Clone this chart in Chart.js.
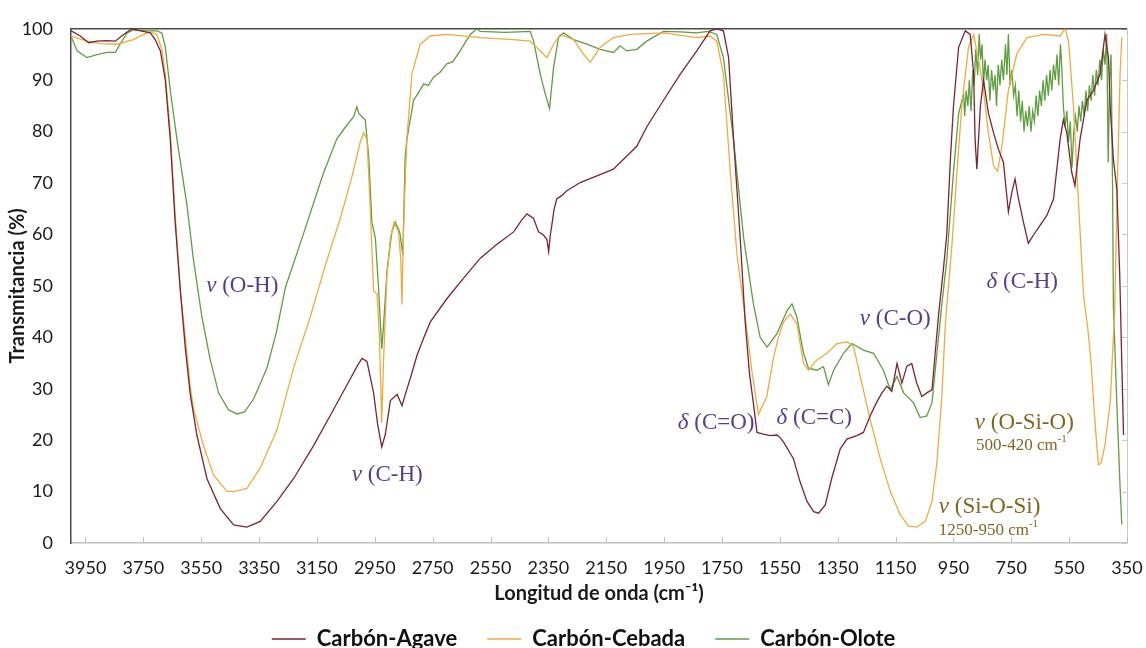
<!DOCTYPE html>
<html>
<head>
<meta charset="utf-8">
<script src="https://cdn.jsdelivr.net/npm/chart.js@4.4.1/dist/chart.umd.min.js"></script>
<style>
  html, body { margin: 0; padding: 0; background: #fff; }
  #chart { display: block; }
</style>
</head>
<body>
<canvas id="chart" width="1146" height="648"></canvas>
<script>
// tick values on the wavenumber axis
const xTicks = [3950, 3750, 3550, 3350, 3150, 2950, 2750, 2550, 2350, 2150, 1950, 1750, 1550, 1350, 1150, 950, 750, 550, 350];

const seriesNames = ['Carbón-Agave', 'Carbón-Cebada', 'Carbón-Olote'];
const seriesColors = ['#7d2331', '#f0aa3e', '#5e9e40'];

// [wavenumber cm-1, transmittance %]
const agave = [
  [4000, 99.6], [3968, 98.6], [3939, 97.3], [3910, 97.6], [3876, 97.7], [3847, 97.6], [3818, 98.9], [3789, 100],
  [3760, 99.6], [3726, 99.2], [3709, 97.9], [3691, 95.7], [3674, 90], [3657, 78.6], [3640, 62.4], [3622, 49],
  [3605, 38], [3588, 29], [3565, 21], [3530, 12.5], [3484, 6.7], [3438, 3.5], [3392, 3.1], [3346, 4.2],
  [3288, 8.1], [3231, 12.5], [3162, 18.9], [3092, 26], [3035, 31.9], [3010, 34.5], [2994, 35.9], [2977, 35.3],
  [2954, 29.2], [2940, 23], [2926, 18.7], [2914, 21], [2896, 27.7], [2873, 28.9], [2862, 27.5], [2856, 26.7],
  [2846, 28.6], [2822, 33], [2804, 36.5], [2780, 40], [2758, 43], [2701, 47.5], [2643, 51.5], [2585, 55.4],
  [2530, 58], [2470, 60.5], [2440, 63], [2424, 64], [2401, 63.1], [2384, 60.5], [2367, 59.9], [2355, 59],
  [2349, 56.7], [2343, 60], [2338, 61.8], [2330, 65], [2321, 66.9], [2303, 67.6], [2286, 68.5], [2240, 70.1],
  [2182, 71.4], [2125, 72.7], [2102, 74], [2067, 75.9], [2044, 77.2], [2009, 81], [1952, 86.1], [1894, 91.2],
  [1837, 95.7], [1791, 99.6], [1768, 100], [1745, 99.6], [1727, 94.4], [1710, 78.6], [1687, 59.3], [1670, 43.2],
  [1655, 33], [1641, 27], [1629, 21.5], [1610, 21.2], [1583, 20.9], [1560, 21], [1549, 20.5], [1537, 19.6],
  [1503, 16.4], [1480, 11.9], [1456, 8.1], [1433, 6.1], [1416, 5.8], [1393, 7.4], [1371, 12.5], [1341, 18.3],
  [1318, 20.2], [1284, 20.9], [1261, 21.5], [1238, 24.7], [1215, 27.4], [1197, 29.2], [1180, 30.5], [1163, 29.5],
  [1145, 34.9], [1128, 31.1], [1111, 34.4], [1094, 34.9], [1077, 31.1], [1059, 28.5], [1042, 29.2], [1024, 29.8],
  [1013, 36.9], [1001, 44.5], [985, 53], [973, 60], [960, 75], [950, 84.8], [932, 96.4], [909, 99.6],
  [892, 98.9], [880, 91.2], [875, 78.4], [869, 72.7], [857, 84.8], [846, 90], [829, 83.6], [811, 79.7],
  [794, 76.5], [777, 74], [760, 64.4], [748, 68.2], [737, 70.8], [725, 66.9], [708, 62.4], [691, 58.3],
  [673, 59.9], [650, 61.8], [627, 63.7], [604, 66.9], [581, 78.6], [570, 82.3], [558, 79.7], [541, 72.1],
  [530, 69.5], [512, 78.6], [489, 86.1], [466, 88], [443, 91.2], [426, 98.9], [414, 94.4], [408, 84.8],
  [397, 74.6], [385, 68.8], [375, 52], [368, 35], [362, 21]
];

const cebada = [
  [4000, 98.6], [3945, 97.6], [3899, 97.1], [3841, 97], [3784, 97.9], [3749, 98.9], [3726, 99.4], [3703, 98.9],
  [3686, 96], [3674, 91], [3657, 80], [3640, 64], [3622, 49], [3605, 40], [3588, 30.4], [3576, 26],
  [3542, 18.9], [3507, 13.2], [3461, 10.1], [3438, 10], [3392, 10.6], [3346, 14.6], [3288, 22], [3231, 34],
  [3173, 44], [3121, 54], [3070, 63], [3030, 71], [3000, 78], [2989, 79.8], [2977, 78.6], [2966, 65.6],
  [2954, 49], [2942, 48.4], [2934, 40], [2926, 23.4], [2920, 35], [2908, 52], [2896, 59.3], [2883, 62.4],
  [2868, 60.5], [2860, 55], [2856, 46.4], [2852, 58], [2848, 65.6], [2839, 78.6], [2822, 91.2], [2793, 97],
  [2758, 98.6], [2701, 98.9], [2585, 98.3], [2470, 97.9], [2413, 97.6], [2378, 95.7], [2355, 94.4], [2332, 97],
  [2309, 98.9], [2263, 97.9], [2228, 95], [2205, 93.5], [2171, 96.4], [2125, 98.3], [2067, 98.9], [1952, 99.2],
  [1837, 98.3], [1791, 98.6], [1768, 97.6], [1745, 91.2], [1721, 72], [1698, 56], [1672, 45], [1647, 33.6],
  [1624, 25], [1595, 28.5], [1572, 36], [1555, 40], [1537, 43], [1514, 44.5], [1491, 42.6], [1468, 34.9],
  [1451, 33.6], [1422, 35.6], [1387, 36.9], [1353, 38.8], [1318, 39.1], [1295, 38.2], [1272, 32.4], [1238, 24.1],
  [1203, 16.4], [1168, 10], [1134, 5.5], [1105, 3.3], [1077, 3.1], [1047, 4.2], [1024, 8.1], [1007, 15.7],
  [990, 28.5], [979, 41.3], [973, 46], [955, 58], [938, 72], [921, 85], [898, 96.4], [880, 98.9],
  [860, 93], [846, 88.1], [829, 79.7], [811, 73.3], [797, 72.3], [782, 77.3], [760, 88.1], [731, 95.1],
  [696, 98.3], [638, 98.9], [581, 98.6], [564, 100], [552, 97.6], [535, 84.8], [517, 65.6], [500, 48],
  [486, 42], [474, 35], [463, 25.3], [449, 15.2], [440, 15.5], [426, 19.1], [408, 27.4], [397, 40.2],
  [392, 46.4], [385, 65.6], [374, 91.2], [368, 98.3]
];

const olote = [
  [4000, 98.6], [3979, 95.7], [3945, 94.4], [3910, 95], [3876, 95.4], [3847, 95.4], [3824, 97.6], [3806, 99.2],
  [3784, 99.8], [3740, 99.6], [3703, 99.6], [3686, 99.2], [3674, 96.4], [3657, 88.1], [3634, 78.6], [3599, 65.6],
  [3577, 55.2], [3548, 44.1], [3519, 35.7], [3490, 29.2], [3456, 25.9], [3426, 25.1], [3400, 25.5], [3369, 28],
  [3323, 34], [3290, 41], [3259, 49.7], [3202, 59.2], [3127, 72], [3081, 78.6], [3050, 81], [3023, 82.9],
  [3012, 84.8], [3005, 83.5], [2994, 82.9], [2983, 82.3], [2971, 75.2], [2960, 62.4], [2948, 59.3], [2937, 49.7],
  [2926, 37.8], [2920, 42], [2908, 52.8], [2891, 60.5], [2879, 62.4], [2864, 60.5], [2853, 56], [2845, 75.2],
  [2839, 78.5], [2816, 86.1], [2800, 87.5], [2781, 89.3], [2765, 89], [2747, 90.6], [2725, 91.5], [2701, 93.2],
  [2680, 93.6], [2655, 95.7], [2620, 98.9], [2597, 100],
  [2585, 99.5], [2500, 99.3], [2413, 99.5], [2401, 97.6], [2378, 91.2], [2361, 87.4], [2346, 84.5], [2332, 92.5],
  [2315, 98.3], [2298, 99.2], [2263, 97.9], [2217, 97], [2171, 96], [2125, 95.4], [2102, 96.7], [2079, 95.7],
  [2044, 96], [2010, 97.6], [1952, 99.5], [1894, 99.4], [1837, 99.2], [1797, 99.5], [1768, 98.9], [1745, 94.4],
  [1710, 78.4], [1675, 59.3], [1641, 46.4], [1618, 40], [1594, 38.1], [1560, 40.7], [1525, 45.2], [1508, 46.5],
  [1491, 43.9], [1468, 36.9], [1451, 34], [1422, 33.6], [1399, 34.3], [1382, 30.8], [1364, 33.6], [1330, 36.9],
  [1301, 38.8], [1261, 37.5], [1226, 36.9], [1192, 33.6], [1168, 29.8], [1145, 32.4], [1122, 29.2], [1088, 27.3],
  [1065, 24.4], [1042, 24.7], [1024, 27.3], [1007, 36.9], [990, 46.4], [973, 55], [950, 72], [932, 83.5],
  [915, 87.4], [911, 83], [906, 88], [900, 85], [895, 90], [889, 84], [883, 92], [878, 89],
  [873, 96], [866, 91], [861, 99], [856, 94], [851, 97], [846, 89], [841, 94], [835, 90],
  [830, 93], [824, 86], [818, 92], [812, 88], [806, 91], [801, 85], [795, 93], [789, 89],
  [783, 94], [777, 90], [770, 97], [765, 91], [760, 99], [754, 89], [748, 92], [742, 87],
  [736, 89], [730, 83], [724, 88], [718, 82], [712, 86], [706, 80], [700, 84], [694, 81],
  [688, 85], [682, 80], [676, 84], [670, 82], [664, 87], [658, 83], [652, 88], [646, 85],
  [640, 90], [634, 86], [628, 91], [622, 87], [616, 92], [610, 88], [604, 93], [598, 90],
  [592, 95], [586, 89], [580, 97], [575, 92], [570, 85], [564, 81], [558, 84], [552, 78],
  [546, 82], [540, 73], [534, 80], [528, 83], [522, 80], [516, 85], [510, 82], [504, 86],
  [498, 83], [492, 88], [486, 84], [480, 89], [474, 86], [468, 91], [462, 87], [456, 92],
  [450, 89], [444, 94], [438, 90], [432, 96], [426, 93], [420, 99], [415, 74], [410, 90],
  [405, 95], [400, 70], [397, 46], [385, 27], [374, 11], [368, 3.6]
];

// band labels, anchored in data units (centre of the text)
const noteSymbols = ['ν', 'ν', 'δ', 'δ', 'ν', 'δ', 'ν', 'ν'];
const noteTexts = ['(O-H)', '(C-H)', '(C=O)', '(C=C)', '(C-O)', '(C-H)', '(O-Si-O)', '(Si-O-Si)'];
const noteX = [3408, 2907, 1770, 1431, 1151, 712, 705, 825];
const noteY = [49.9, 13.2, 23.4, 24.4, 43.6, 50.7, 23.4, 7.1];
const rangeTexts = ['500-420 cm', '1250-950 cm'];
const rangeX = [715, 829];
const rangeY = [19, 2.5];

const PURPLE = '#573d8d';
const GOLD = '#86641f';

const framePlugin = {
  id: 'frame',
  afterLayout(chart) {
    // legend sits a little lower and to the right of the default spot
    const lg = chart.legend;
    lg.top = 598;
    lg.bottom = 648;
    lg.left += 20;
    lg.right += 20;
  },
  beforeDatasetsDraw(chart) {
    const { ctx, chartArea: a, scales: { x, y } } = chart;
    ctx.save();
    ctx.lineWidth = 1;
    ctx.strokeStyle = '#c5c9d6';
    ctx.beginPath();
    ctx.moveTo(a.right + 0.5, a.top);
    ctx.lineTo(a.right + 0.5, a.bottom);
    y.ticks.forEach(t => {
      const py = Math.round(y.getPixelForValue(t.value)) + 0.5;
      ctx.moveTo(a.right - 5, py);
      ctx.lineTo(a.right, py);
    });
    ctx.stroke();
    ctx.strokeStyle = '#bdbdbd';
    ctx.beginPath();
    x.ticks.forEach(t => {
      const px = Math.round(x.getPixelForValue(t.value)) + 0.5;
      ctx.moveTo(px, a.bottom);
      ctx.lineTo(px, a.bottom - 6);
    });
    ctx.stroke();
    ctx.strokeStyle = '#4a4a4a';
    ctx.lineWidth = 1.5;
    ctx.beginPath();
    ctx.moveTo(a.left, a.top);
    ctx.lineTo(a.right, a.top);
    ctx.stroke();
    ctx.restore();
  },
  afterDatasetsDraw(chart) {
    const { ctx, scales: { x, y } } = chart;
    ctx.save();
    ctx.textBaseline = 'middle';
    ctx.textAlign = 'left';
    const serif = '"Liberation Serif", "DejaVu Serif", serif';
    noteTexts.forEach((txt, i) => {
      const sym = noteSymbols[i] + ' ';
      ctx.font = 'italic 23px ' + serif;
      const ws = ctx.measureText(sym).width;
      ctx.font = '23px ' + serif;
      const wt = ctx.measureText(txt).width;
      const px = x.getPixelForValue(noteX[i]) - (ws + wt) / 2;
      const py = y.getPixelForValue(noteY[i]);
      ctx.fillStyle = i >= 6 ? GOLD : PURPLE;
      ctx.font = 'italic 23px ' + serif;
      ctx.fillText(sym, px, py);
      ctx.font = '23px ' + serif;
      ctx.fillText(txt, px + ws, py);
    });
    rangeTexts.forEach((txt, i) => {
      ctx.font = '17px ' + serif;
      const wt = ctx.measureText(txt).width;
      ctx.font = '11px ' + serif;
      const wsup = ctx.measureText('-1').width;
      const px = x.getPixelForValue(rangeX[i]) - (wt + wsup) / 2;
      const py = y.getPixelForValue(rangeY[i]);
      ctx.fillStyle = GOLD;
      ctx.font = '17px ' + serif;
      ctx.fillText(txt, px, py);
      ctx.font = '11px ' + serif;
      ctx.fillText('-1', px + wt, py - 6);
    });
    ctx.restore();
  }
};

Chart.defaults.font.family = 'Lato, "DejaVu Sans", sans-serif';
Chart.defaults.color = '#1a1a1a';

const toPoints = arr => arr.map(([w, t]) => ({ x: w, y: t }));
const seriesData = [agave, cebada, olote];

new Chart(document.getElementById('chart'), {
  type: 'line',
  data: {
    datasets: seriesData.map((arr, i) => ({
      label: seriesNames[i],
      data: toPoints(arr),
      borderColor: seriesColors[i],
      backgroundColor: seriesColors[i],
      borderWidth: 1.3,
      pointRadius: 0,
      tension: 0,
      fill: false
    }))
  },
  options: {
    responsive: false,
    animation: false,
    devicePixelRatio: 1,
    layout: { padding: { left: 0, right: 19, top: 20, bottom: 0 } },
    plugins: {
      tooltip: { enabled: false },
      legend: {
        position: 'bottom',
        maxHeight: 42,
        labels: {
          usePointStyle: true,
          pointStyle: 'line',
          pointStyleWidth: 34,
          padding: 30,
          color: '#111',
          font: { size: 22, weight: 'bold' }
        }
      }
    },
    scales: {
      x: {
        type: 'linear',
        reverse: true,
        min: 350,
        max: 4000,
        afterBuildTicks: scale => { scale.ticks = xTicks.map(v => ({ value: v })); },
        afterFit: scale => {
          scale.height = 63;
          scale.paddingLeft = 0;
          scale.paddingRight = 0;
        },
        grid: { display: false, drawTicks: false },
        border: { display: true, color: '#c0c0c0', width: 1.5 },
        ticks: {
          padding: 14,
          autoSkip: false,
          maxRotation: 0,
          font: { size: 18 },
          callback: v => String(v)
        },
        title: {
          display: true,
          text: 'Longitud de onda (cm⁻¹)',
          font: { size: 20, weight: 'bold' },
          padding: { top: 0, bottom: 0 }
        }
      },
      y: {
        min: 0,
        max: 100,
        afterFit: scale => { scale.width = 71; },
        grid: { display: false, drawTicks: false },
        border: { display: true, color: '#4a4a4a', width: 1.5 },
        ticks: {
          stepSize: 10,
          padding: 18,
          font: { size: 18 }
        },
        title: {
          display: true,
          text: 'Transmitancia (%)',
          font: { size: 20, weight: 'bold' },
          padding: { top: 6, bottom: 0 }
        }
      }
    }
  },
  plugins: [framePlugin]
});
</script>
</body>
</html>
